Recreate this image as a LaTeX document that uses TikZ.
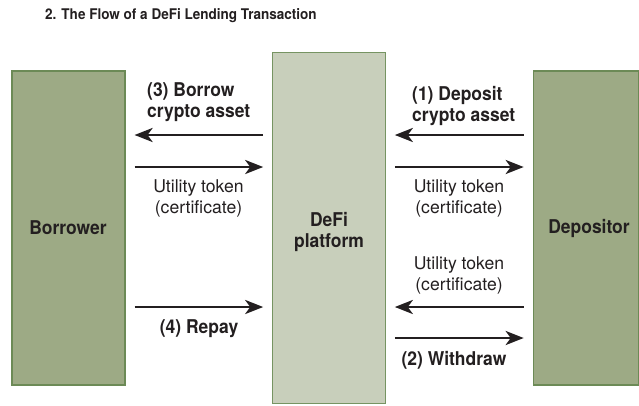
\documentclass[tikz,border=0pt]{standalone}
\usepackage{fontspec}
\setmainfont{TeX Gyre Heros}[BoldFeatures={FakeStretch=0.92}]
\usetikzlibrary{arrows.meta,positioning}
\definecolor{partyfill}{RGB}{157,170,133}
\definecolor{partyline}{RGB}{108,138,86}
\definecolor{hubfill}{RGB}{200,207,187}
\definecolor{hubline}{RGB}{118,148,98}
\definecolor{ink}{RGB}{35,31,32}

\begin{document}
\begin{tikzpicture}[x=1pt, y=-1pt,
    party/.style={draw=partyline, fill=partyfill, line width=1.1pt, inner sep=0pt,
      font=\fontsize{19}{21}\selectfont\bfseries},
    hub/.style={draw=hubline, fill=hubfill, line width=1.1pt, inner sep=0pt, align=center,
      font=\fontsize{19}{21}\selectfont\bfseries},
    flow/.style={-{Stealth[length=18pt,width=14pt,inset=5pt]}, line width=2.8pt,
      draw=ink, shorten <=9pt, shorten >=9pt},
    lbl/.style={align=left, inner sep=0pt, text=ink, font=\fontsize{19}{21}\selectfont\bfseries},
    note/.style={align=center, inner sep=0pt, text=ink, font=\fontsize{17.6}{21}\selectfont}]
    \useasboundingbox (0,0) rectangle (639,405);
    \node[anchor=west, inner sep=0pt, text=ink, font=\fontsize{14.7}{16}\selectfont\bfseries] (title) at (45,16)
      {2. The Flow of a DeFi Lending Transaction};
    % the three parties
    \node[party, minimum width=113pt, minimum height=314pt] (bor) at (68.5,228) {};
    \node[hub, minimum width=112.5pt, minimum height=351.5pt] (dfp) at (329,228) {};
    \node[party, minimum width=105.5pt, minimum height=314pt] (dep) at (586,228) {};
    \node[text=ink, font=\fontsize{19}{21}\selectfont\bfseries] (borname) at (68,228) {Borrower};
    \node[align=center, text=ink, font=\fontsize{19}{21}\selectfont\bfseries] (dfpname) at (329,232) {DeFi\\platform};
    \node[text=ink, font=\fontsize{19}{21}\selectfont\bfseries] (depname) at (589,228) {Depositor};
    % borrower side
    \draw[flow] (dfp.west |- 0,135) -- (bor.east |- 0,135);
    \draw[flow] (bor.east |- 0,167) -- (dfp.west |- 0,167);
    \draw[flow] (bor.east |- 0,307) -- (dfp.west |- 0,307);
    \node[lbl, anchor=west] (borrow) at (147,102) {(3) Borrow\\crypto asset};
    \node[note] (tokbor) at (198.5,198) {Utility token\\(certificate)};
    \node[lbl] (repay) at (199,329) {(4) Repay};
    % depositor side
    \draw[flow] (dep.west |- 0,135) -- (dfp.east |- 0,135);
    \draw[flow] (dfp.east |- 0,167) -- (dep.west |- 0,167);
    \draw[flow] (dep.west |- 0,307) -- (dfp.east |- 0,307);
    \draw[flow] (dfp.east |- 0,338) -- (dep.west |- 0,338);
    \node[lbl, anchor=west] (deposit) at (412,106) {(1) Deposit\\crypto asset};
    \node[note] (tokdep) at (459,198.5) {Utility token\\(certificate)};
    \node[note] (tokret) at (459,275) {Utility token\\(certificate)};
    \node[lbl] (withdraw) at (454,360) {(2) Withdraw};
\end{tikzpicture}
\end{document}
